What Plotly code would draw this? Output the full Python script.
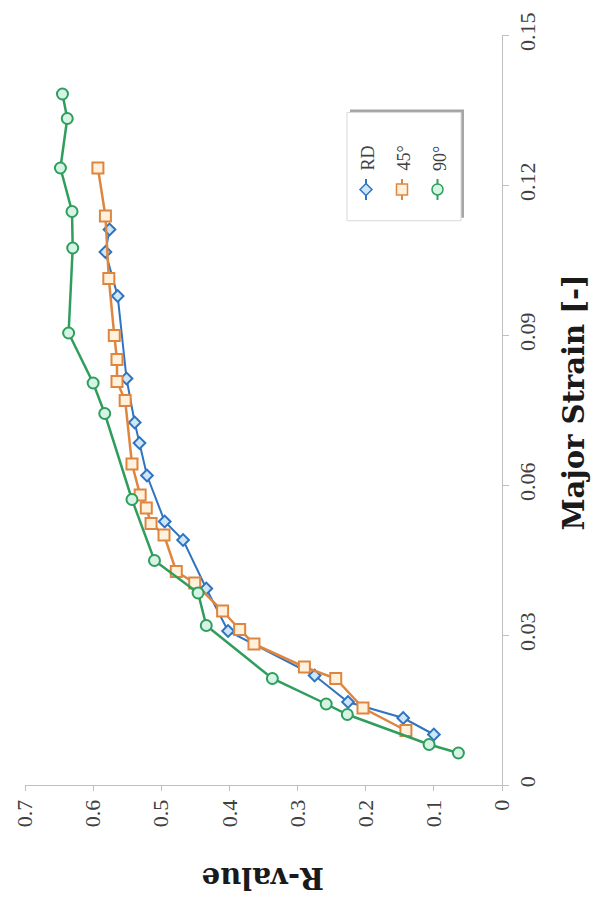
import plotly.graph_objects as go

# R-value (horizontal, reversed) vs major strain (vertical), chart shown rotated
rd_r = [0.100, 0.145, 0.226, 0.275, 0.402, 0.434, 0.468, 0.495, 0.521, 0.532,
        0.539, 0.551, 0.564, 0.582, 0.576]
rd_strain = [0.0101, 0.0134, 0.0166, 0.0219, 0.0308, 0.0393, 0.0490, 0.0527, 0.0619,
             0.0684, 0.0725, 0.0813, 0.0978, 0.1066, 0.1111]

d45_r = [0.141, 0.204, 0.244, 0.290, 0.364, 0.385, 0.410, 0.451, 0.478, 0.496,
         0.515, 0.522, 0.531, 0.543, 0.553, 0.565, 0.565, 0.569, 0.577, 0.582, 0.593]
d45_strain = [0.0109, 0.0154, 0.0213, 0.0236, 0.0282, 0.0311, 0.0348, 0.0404, 0.0427,
              0.0500, 0.0523, 0.0554, 0.0580, 0.0642, 0.0769, 0.0807, 0.0851, 0.0899,
              0.1013, 0.1138, 0.1234]

d90_r = [0.064, 0.107, 0.227, 0.258, 0.337, 0.434, 0.446, 0.510, 0.543, 0.583,
         0.600, 0.636, 0.630, 0.631, 0.648, 0.638, 0.645]
d90_strain = [0.0064, 0.0081, 0.0141, 0.0162, 0.0213, 0.0319, 0.0384, 0.0449, 0.0571,
              0.0743, 0.0804, 0.0904, 0.1074, 0.1147, 0.1234, 0.1333, 0.1382]

series = [
    ("RD", rd_r, rd_strain, "#2f74c0", "#cfe6f7", "diamond", 9, 2),
    ("45°", d45_r, d45_strain, "#de8640", "#fff1dc", "square", 11, 2.5),
    ("90°", d90_r, d90_strain, "#2f9e5c", "#d6f4e6", "circle", 11, 2.5),
]

L, R, T, B = 25, 95, 30, 115
W, H = 597, 900
PW, PH = W - L - R, H - T - B


def px_x(p):
    return (p - L) / PW


def px_y(p):
    return (H - B - p) / PH


fig = go.Figure()
for name, r, s, col, fill, sym, size, lw in series:
    fig.add_trace(go.Scatter(
        x=r, y=s, name=name, mode="lines+markers",
        line=dict(color=col, width=lw),
        marker=dict(symbol=sym, size=size, color=fill, line=dict(color=col, width=2)),
        showlegend=False,
    ))

tick_font = dict(family="Liberation Serif", size=22, color="#404040")
title_font = dict(family="DejaVu Serif", size=29, color="#1a1a1a")

fig.update_layout(
    width=W, height=H,
    margin=dict(l=L, r=R, t=T, b=B),
    plot_bgcolor="white", paper_bgcolor="white",
    xaxis=dict(range=[0.7, 0], dtick=0.1, showgrid=False, zeroline=False,
               showline=True, linecolor="#bfbfbf", linewidth=1,
               ticks="outside", ticklen=5, tickcolor="#bfbfbf",
               tickangle=-90, tickfont=tick_font),
    yaxis=dict(range=[0, 0.15], dtick=0.03, side="right", showgrid=False,
               zeroline=False, showline=True, linecolor="#bfbfbf", linewidth=1,
               ticks="outside", ticklen=6, tickcolor="#bfbfbf",
               tickangle=-90, tickfont=tick_font),
)

# axis titles, rotated like the reference
fig.add_annotation(text="<b>R-value</b>", xref="paper", yref="paper",
                   x=0.5, y=px_y(878), textangle=180, showarrow=False,
                   font=title_font, xanchor="center", yanchor="middle")
fig.add_annotation(text="<b>Major Strain [-]</b>", xref="paper", yref="paper",
                   x=px_x(574), y=px_y(400), textangle=-90, showarrow=False,
                   font=title_font, xanchor="center", yanchor="middle")

# hand-drawn legend box (rotated)
fig.add_shape(type="rect", xref="paper", yref="paper",
              x0=px_x(350), x1=px_x(464), y0=px_y(214), y1=px_y(105),
              fillcolor="#a6a6a6", line=dict(width=0), layer="above")
fig.add_shape(type="rect", xref="paper", yref="paper",
              x0=px_x(347), x1=px_x(461), y0=px_y(217), y1=px_y(108),
              fillcolor="white", line=dict(color="#d9d9d9", width=1), layer="above")

legend_x = [366, 402, 437.5]
for (name, r, s, col, fill, sym, size, lw), xc in zip(series, legend_x):
    fig.add_shape(type="line", xref="paper", yref="paper",
                  x0=px_x(xc), x1=px_x(xc), y0=px_y(175), y1=px_y(196),
                  line=dict(color=col, width=2), layer="above")
    common = dict(xref="paper", yref="paper", xsizemode="pixel", ysizemode="pixel",
                  xanchor=px_x(xc), yanchor=px_y(185.5),
                  fillcolor=fill, line=dict(color=col, width=1.5), layer="above")
    if sym == "diamond":
        fig.add_shape(type="path", path="M -6 0 L 0 6 L 6 0 L 0 -6 Z", **common)
    elif sym == "square":
        fig.add_shape(type="rect", x0=-5.5, x1=5.5, y0=-5.5, y1=5.5, **common)
    else:
        fig.add_shape(type="circle", x0=-5.5, x1=5.5, y0=-5.5, y1=5.5, **common)
    fig.add_annotation(text=name, xref="paper", yref="paper",
                       x=px_x(xc + 2), y=px_y(169), textangle=-90, showarrow=False,
                       font=dict(family="Liberation Serif", size=18, color="#404040"),
                       xanchor="center", yanchor="bottom")

# drop the default page margin so the figure sits at the window's corner
fig.write_html("out.html", config={"displayModeBar": False},
               post_script="document.body.style.margin='0px';")
